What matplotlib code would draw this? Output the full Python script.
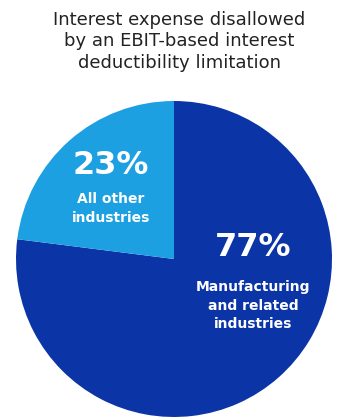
import matplotlib
matplotlib.use("Agg")
import matplotlib.pyplot as plt

# data
categories = ["Manufacturing\nand related\nindustries", "All other\nindustries"]
shares = [77, 23]
colors = ["#0b35a7", "#1ca0e2"]
title = "Interest expense disallowed\nby an EBIT-based interest\ndeductibility limitation"

plt.rcParams["font.family"] = ["DejaVu Sans"]

W, H = 341, 419
fig = plt.figure(figsize=(W / 100, H / 100), dpi=100)
fig.patch.set_facecolor("white")

# pie centre ~ (174, 259) px, radius ~158 px
cx, cy, r = 174, 259, 158
ax = fig.add_axes([(cx - r) / W, (H - cy - r) / H, 2 * r / W, 2 * r / H])
ax.pie(shares, colors=colors, startangle=90, counterclock=False, radius=1,
       wedgeprops=dict(linewidth=0))
ax.set_xlim(-1, 1)
ax.set_ylim(-1, 1)
ax.set_aspect("equal")
ax.axis("off")

# label positions (axes data coords)
pct_pos = [(0.50, 0.07), (-0.40, 0.59)]
name_pos = [(0.50, -0.295), (-0.40, 0.32)]
for share, name, (px, py), (nx, ny) in zip(shares, categories, pct_pos, name_pos):
    ax.text(px, py, f"{share}%", color="white", fontsize=23, fontweight="bold",
            ha="center", va="center")
    ax.text(nx, ny, name, color="white", fontsize=10, fontweight="bold",
            ha="center", va="center", linespacing=1.4)

fig.text(179 / W, 1 - 11 / H, title, ha="center", va="top", fontsize=13,
         color="#222222", linespacing=1.25)

fig.savefig("out.png", dpi=100)
